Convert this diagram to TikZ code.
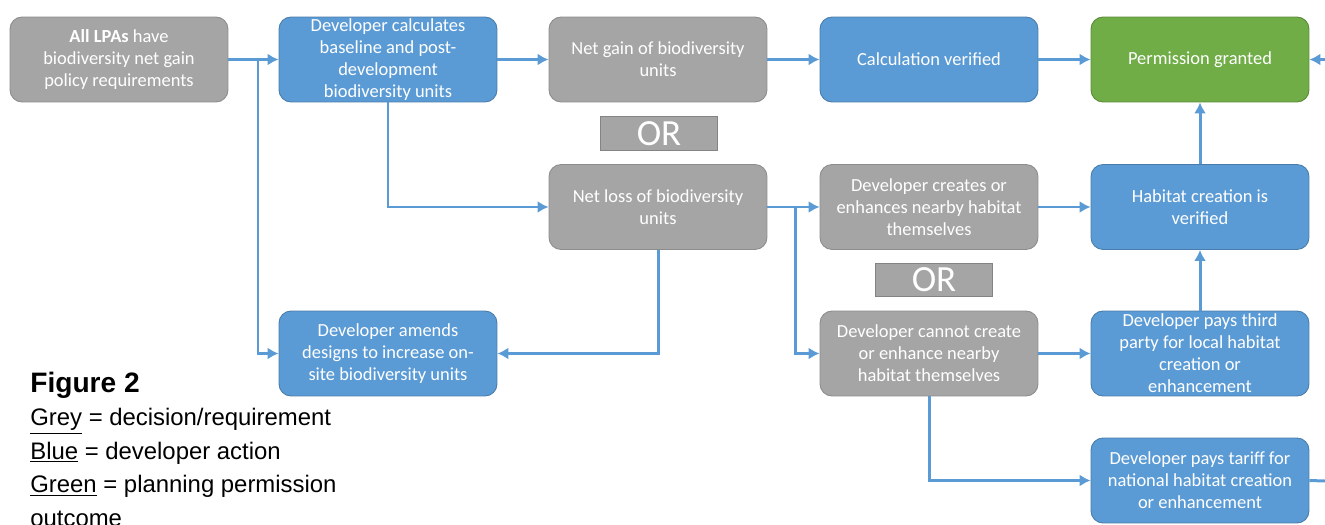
\documentclass[tikz,border=0pt]{standalone}
\usepackage{fontspec}
\setmainfont{Carlito}
\newfontfamily\legendfont{Liberation Sans}
\usepackage{tikz}
\usetikzlibrary{arrows.meta}
\tikzset{>={Latex[width=2.4mm,length=2.2mm]}}
\definecolor{boxgrey}{HTML}{A5A5A5}
\definecolor{boxblue}{HTML}{5B9BD5}
\definecolor{boxgreen}{HTML}{70AD47}

\begin{document}
\begin{tikzpicture}[
    x = 0.02cm, y = -0.02cm,
    box/.style = {rounded corners=2.4mm, minimum width=4.36cm, minimum height=1.7cm,
        inner sep=0pt, align=center, text=white, line width=0.5pt,
        font=\fontsize{10.5}{12.5}\selectfont},
    greybox/.style = {box, fill=boxgrey, draw=boxgrey!85!black},
    bluebox/.style = {box, fill=boxblue, draw=boxblue!80!black},
    greenbox/.style = {box, fill=boxgreen, draw=boxgreen!80!black},
    orbox/.style = {fill=boxgrey, draw=boxgrey!80!black, text=white, inner sep=0pt,
        minimum width=2.34cm, minimum height=0.67cm, font=\fontsize{21}{21}\selectfont},
    link/.style = {draw=boxblue, line width=1.7pt, ->},
    legend/.style = {anchor=base west, inner sep=0pt, font=\legendfont\fontsize{13.6}{15}\selectfont}
  ]
  \useasboundingbox (0,0) rectangle (1325,524);

  \node[greybox]  (lpa)      at (119,59.5)   {\textbf{All LPAs} have\\biodiversity net gain\\policy requirements};
  \node[bluebox]  (calc)     at (388,59.5)   {Developer calculates\\baseline and post-\\development\\biodiversity units};
  \node[greybox]  (gain)     at (658,59.5)   {Net gain of biodiversity\\units};
  \node[bluebox]  (verified) at (929,59.5)   {Calculation verified};
  \node[greenbox] (granted)  at (1200,59.5)  {Permission granted};

  \node[greybox]  (loss)     at (658,207)    {Net loss of biodiversity\\units};
  \node[greybox]  (creates)  at (929,207)    {Developer creates or\\enhances nearby habitat\\themselves};
  \node[bluebox]  (habitat)  at (1200,207)   {Habitat creation is\\verified};

  \node[bluebox]  (amends)   at (388,353.5)  {Developer amends\\designs to increase on-\\site biodiversity units};
  \node[greybox]  (cannot)   at (929,353.5)  {Developer cannot create\\or enhance nearby\\habitat themselves};
  \node[bluebox]  (third)    at (1200,353.5) {Developer pays third\\party for local habitat\\creation or\\enhancement};
  \node[bluebox]  (tariff)   at (1200,480.5) {Developer pays tariff for\\national habitat creation\\or enhancement};

  \node[orbox] (or1) at (659,133.5) {OR};
  \node[orbox] (or2) at (934,280)   {OR};

  \coordinate (split1) at (258,59.5);
  \coordinate (split2) at (795,207);
  \coordinate (rightin)  at (1325,59.5);
  \coordinate (rightout) at (1325,481);

  \draw[link] (lpa) -- (calc);
  \draw[link] (split1) |- (amends.west);
  \draw[link] (calc) -- (gain);
  \draw[link] (gain) -- (verified);
  \draw[link] (verified) -- (granted);
  \draw[link] (rightin) -- (granted.east);
  \draw[link] (calc.south) |- (loss.west);
  \draw[link] (loss.south) |- (amends.east);
  \draw[link] (loss) -- (creates);
  \draw[link] (split2) |- (cannot.west);
  \draw[link] (creates) -- (habitat);
  \draw[link] (cannot) -- (third);
  \draw[link] (third) -- (habitat);
  \draw[link] (habitat) -- (granted);
  \draw[link] (cannot.south) |- (tariff.west);
  \draw[draw=boxblue, line width=1.7pt] (tariff.east) -- (rightout);

  \node[legend, font=\legendfont\bfseries\fontsize{16}{18}\selectfont] (fig) at (30,392) {Figure 2};
  \foreach \txt [count=\k] in {{\underline{Grey} = decision/requirement},
      {\underline{Blue} = developer action},
      {\underline{Green} = planning permission},
      {outcome}}
    \node[legend] (leg\k) at (30,392+33.5*\k) {\txt};
\end{tikzpicture}
\end{document}
